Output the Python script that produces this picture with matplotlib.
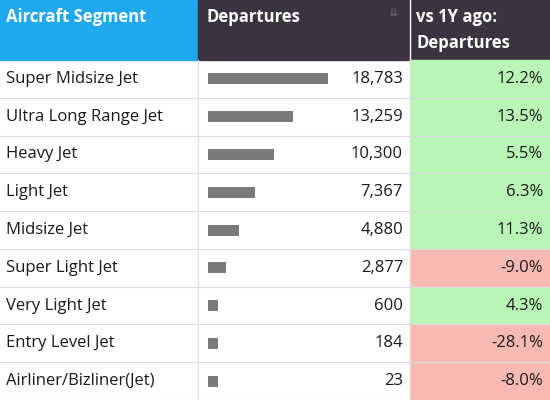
import matplotlib
matplotlib.use("Agg")
import matplotlib.pyplot as plt
from matplotlib.patches import Rectangle

segments = ["Super Midsize Jet", "Ultra Long Range Jet", "Heavy Jet", "Light Jet",
            "Midsize Jet", "Super Light Jet", "Very Light Jet", "Entry Level Jet",
            "Airliner/Bizliner(Jet)"]
departures = [18783, 13259, 10300, 7367, 4880, 2877, 600, 184, 23]
change = [12.2, 13.5, 5.5, 6.3, 11.3, -9.0, 4.3, -28.1, -8.0]

plt.rcParams['font.family'] = ['Open Sans', 'DejaVu Sans']
fig = plt.figure(figsize=(5.5, 4), dpi=100)
ax = fig.add_axes([0, 0, 1, 1])
ax.set_xlim(0, 550)
ax.set_ylim(400, 0)
ax.axis('off')

hdr_h = 60
c1, c2, c3 = 198, 410, 550
fs = 12
ax.add_patch(Rectangle((0, 0), c1, hdr_h, color='#1ea8ee'))
ax.add_patch(Rectangle((c1, 0), c3 - c1, hdr_h, color='#3b3340'))
ax.plot([c2, c2], [0, hdr_h], color='white', lw=1)
ax.text(6, 17, "Aircraft Segment", color='white', fontsize=fs, fontweight='bold', va='center')
ax.text(206, 17, "Departures", color='white', fontsize=fs, fontweight='bold', va='center')
ax.text(416, 17, "vs 1Y ago:", color='white', fontsize=fs, fontweight='bold', va='center')
ax.text(416, 43, "Departures", color='white', fontsize=fs, fontweight='bold', va='center')
ax.text(393, 13, "⇊", color='#6a6470', fontsize=8, va='center', ha='center')

row_h = (400 - hdr_h) / len(segments)
scale = 120 / max(departures)
ys = [hdr_h + row_h * (i + 0.5) for i in range(len(segments))]
ax.barh(ys, [max(d * scale, 10) for d in departures], left=208, height=11, color='#7a7a7a')
for i, (s, d, c) in enumerate(zip(segments, departures, change)):
    top = hdr_h + row_h * i
    y = ys[i]
    ax.add_patch(Rectangle((c2, top), c3 - c2, row_h,
                           color='#b9f5b4' if c >= 0 else '#f7b9b2'))
    ax.plot([0, c3], [top + row_h, top + row_h], color='#dddddd', lw=0.8)
    ax.text(6, y, s, fontsize=fs, va='center', color='#1a1a1a', fontweight='medium')
    ax.text(403, y, f"{d:,}", fontsize=fs, va='center', ha='right', color='#1a1a1a', fontweight='medium')
    ax.text(543, y, f"{c:.1f}%", fontsize=fs, va='center', ha='right', color='#1a1a1a', fontweight='medium')
ax.plot([c1, c1], [hdr_h, 400], color='#dddddd', lw=0.8)
ax.plot([c2, c2], [hdr_h, 400], color='#dddddd', lw=0.8)

fig.savefig("out.png", dpi=100)
